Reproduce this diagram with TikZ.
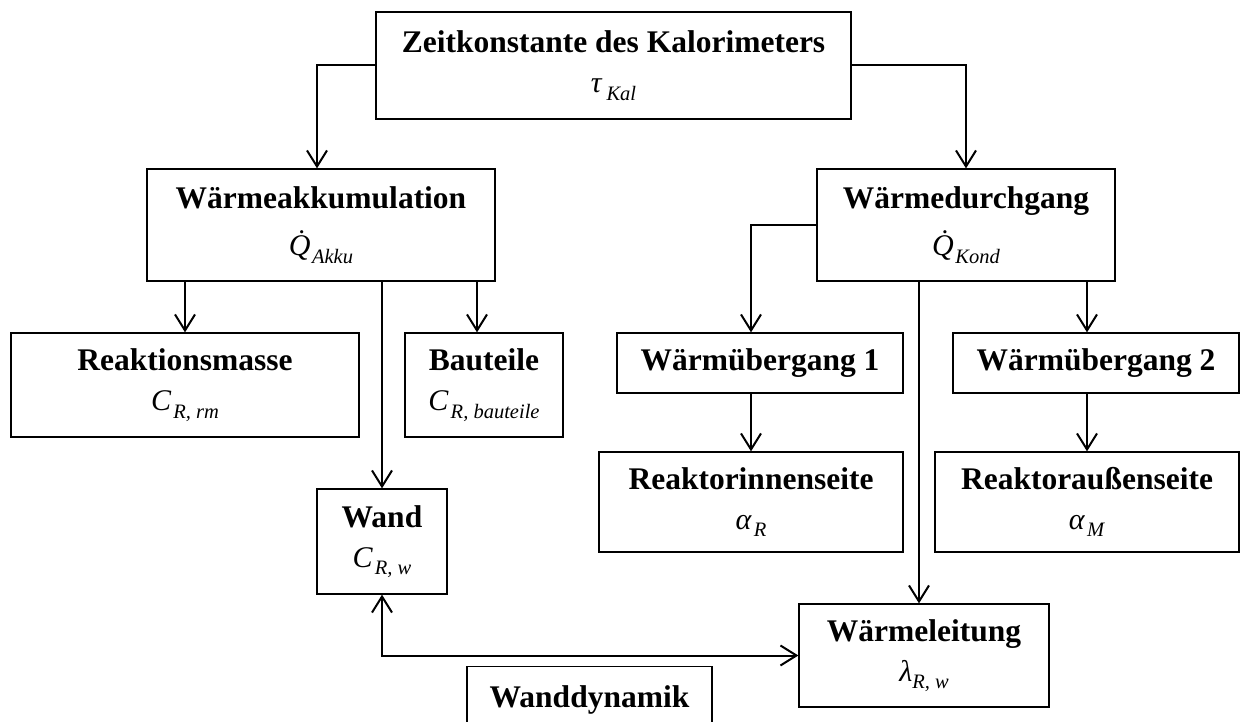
\documentclass[tikz,border=0pt]{standalone}
\usepackage{fontspec}
\setmainfont{Liberation Serif}
\usetikzlibrary{arrows.meta,calc}
\newcommand\symb[3][2pt]{{\fontsize{30}{40}\selectfont\mdseries\textit{#2}\kern#1\raisebox{-0.25em}{\fontsize{20.5}{20.5}\selectfont\textit{#3}}}}
\tikzset{
  box/.style={draw, line width=1.3pt, align=center, inner sep=0pt,
    font=\fontsize{31.5}{40}\selectfont\bfseries},
  arr/.style={line width=2pt, -{Straight Barb[length=16pt,width=20pt]}},
  arrtwo/.style={line width=2pt, {Straight Barb[length=16pt,width=20pt]}-{Straight Barb[length=16pt,width=20pt]}},
}
\begin{document}
\begin{tikzpicture}[x=1pt,y=-1pt]
\useasboundingbox (0,0) rectangle (1242,722);
\node[box, minimum width=475pt, minimum height=107pt] (top) at (613.5,65.5)
  {Zeitkonstante des Kalorimeters\\\symb[4pt]{τ}{Kal}};
\node[box, minimum width=348pt, minimum height=112pt] (akku) at (321,225)
  {Wärmeakkumulation\\[7pt]\symb[-7pt]{\.{Q}}{Akku}};
\node[box, minimum width=298pt, minimum height=112pt] (durch) at (966,225)
  {Wärmedurchgang\\[7pt]\symb[-7pt]{\.{Q}}{Kond}};
\node[box, minimum width=348pt, minimum height=104pt] (rm) at (185,385)
  {Reaktionsmasse\\\symb{C}{R, rm}};
\node[box, minimum width=158pt, minimum height=104pt] (bau) at (484,385)
  {Bauteile\\\symb{C}{R, bauteile}};
\node[box, minimum width=286pt, minimum height=60pt] (wu1) at (760,363)
  {Wärmübergang 1};
\node[box, minimum width=286pt, minimum height=60pt] (wu2) at (1096,363)
  {Wärmübergang 2};
\node[box, minimum width=304pt, minimum height=100pt] (innen) at (751,502)
  {Reaktorinnenseite\\\symb{α}{R}};
\node[box, minimum width=304pt, minimum height=100pt] (aussen) at (1087,502)
  {Reaktoraußenseite\\\symb{α}{M}};
\node[box, minimum width=130pt, minimum height=105pt] (wand) at (382,541.5)
  {Wand\\\symb{C}{R, w}};
\node[box, minimum width=250pt, minimum height=103pt] (leit) at (924,655.5)
  {Wärmeleitung\\\symb[0pt]{λ}{R, w}};
\node[box, minimum width=245pt, inner ysep=19pt, text depth=40pt, anchor=north] (dyn) at (589.5,666)
  {Wanddynamik};
% connectors
\coordinate (akkuin) at ($(akku.north)+(-4,0)$);
\coordinate (bauin) at ($(bau.north)+(-7,0)$);
\coordinate (leitin) at ($(leit.north)+(-5,0)$);
\draw[arr] (top.west) -| (akkuin);
\draw[arr] (top.east) -| (durch.north);
\draw[arr] (rm.north |- akku.south) -- (rm.north);
\draw[arr] (bauin |- akku.south) -- (bauin);
\draw[arr] (wand.north |- akku.south) -- (wand.north);
\draw[arr] (durch.west) -| (wu1.north -| innen.north);
\draw[arr] (aussen.north |- durch.south) -- (aussen.north |- wu2.north);
\draw[arr] (leitin |- durch.south) -- (leitin);
\draw[arr] (innen.north |- wu1.south) -- (innen.north);
\draw[arr] (aussen.north |- wu2.south) -- (aussen.north);
\draw[arrtwo] (wand.south) |- (leit.west);
\end{tikzpicture}
\end{document}
